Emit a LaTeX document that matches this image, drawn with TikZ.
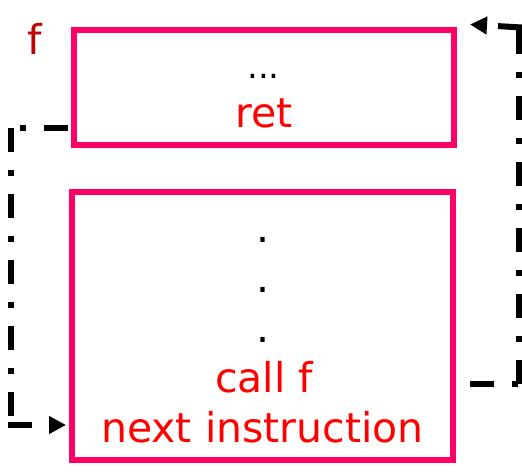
\documentclass[tikz,border=0pt]{standalone}
\usepackage{fontspec}
\setmainfont{DejaVu Sans}
\usetikzlibrary{arrows.meta,calc}
\definecolor{boxpink}{RGB}{255,0,102}
\definecolor{txtred}{RGB}{255,0,0}
\definecolor{fred}{RGB}{192,0,0}
\begin{document}
\begin{tikzpicture}[x=1pt,y=-1pt,
  codebox/.style={draw=boxpink,line width=6pt,inner sep=0pt},
  bigtxt/.style={font=\fontsize{41}{50}\selectfont,inner sep=0pt,anchor=base},
  conn/.style={line width=6pt,dash pattern=on 24pt off 18pt on 6pt off 18pt},
  tip/.style={-{Triangle[length=17pt,width=17pt]}}]
\useasboundingbox (0,0) rectangle (522,476);
% boxes
\node[codebox,minimum width=379.5pt,minimum height=115.5pt] (topbox) at (263.75,87.75) {};
\node[codebox,minimum width=381pt,minimum height=267.5pt] (botbox) at (262.5,325.75) {};
% texts
\node[bigtxt,text=fred] (flabel) at (34.5,55) {f};
\node[font=\fontsize{34}{40}\selectfont,inner sep=0pt,anchor=base] (ell) at (263.5,79) {...};
\node[bigtxt,text=txtred] (ret) at (264,128) {ret};
\node[bigtxt] (d1) at (263,242) {.};
\node[bigtxt] (d2) at (263,292) {.};
\node[bigtxt] (d3) at (263,342) {.};
\node[bigtxt,text=txtred] (callf) at (264,392) {call f};
\node[bigtxt,text=txtred] (nexti) at (262.5,442) {next instruction};
% left connector (ret -> next instruction)
\coordinate (L0) at ($(topbox.west)+(-3,40.25)$);
\coordinate (L1) at (11,128);
\coordinate (L2) at (11,425);
\coordinate (L2b) at (8,425);
\coordinate (L3) at ($(botbox.west)+(-3,99.25)$);
\draw[conn] (L0) -- (L1);
\draw[conn] (L1) -- (L2);
\draw[conn,tip] (L2b) -- (L3);
% right connector (call f -> f)
\coordinate (R0) at ($(botbox.east)+(3,58.25)$);
\coordinate (R1) at (519,384);
\coordinate (R2) at (519,27.5);
\coordinate (R2b) at (522,27.5);
\coordinate (R3) at ($(topbox.north east)+(13.5,-2.5)$);
\draw[conn,dash phase=55pt] (R0) -- (R1);
\draw[conn] (R1) -- (R2);
\draw[conn,tip] (R2b) -- (R3);
\end{tikzpicture}
\end{document}
